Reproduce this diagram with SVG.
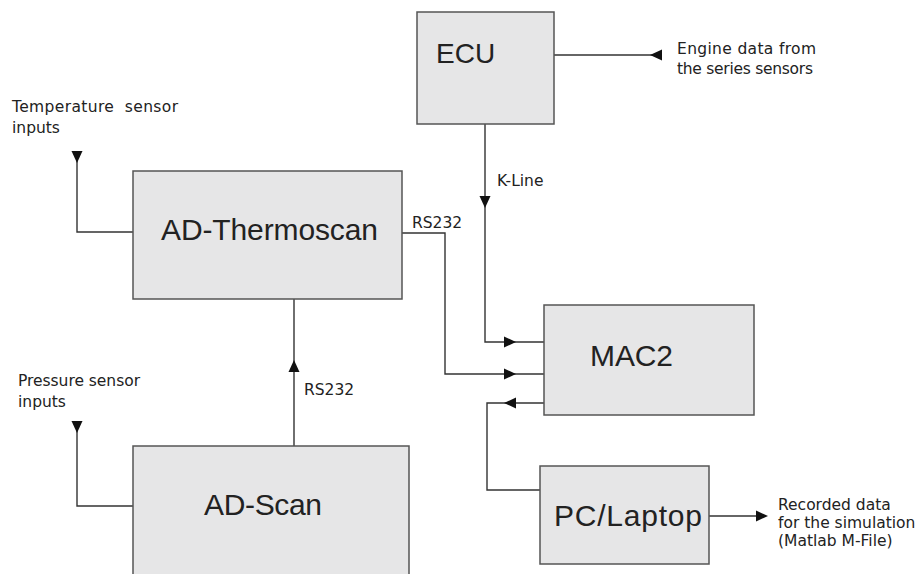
<svg xmlns="http://www.w3.org/2000/svg" width="919" height="574" viewBox="0 0 919 574">
  <style>
    .box { fill: #e6e6e7; stroke: #555; stroke-width: 1.5; }
    .big { font-family: "Liberation Sans", Arial, sans-serif; font-size: 30px; fill: #222; }
    .lbl { font-family: "DejaVu Sans", "Liberation Sans", sans-serif; font-size: 15.5px; fill: #222; }
    .wire { fill: none; stroke: #333; stroke-width: 1.4; }
    .head { fill: #111; }
  </style>
  <defs>
    <path id="ah" d="M0,0 L-12,-5.5 L-12,5.5 Z"/>
  </defs>
  <rect width="919" height="574" fill="#ffffff"/>

  <g id="connectors">
    <polyline class="wire" points="554,55 662,55"/>
    <polyline class="wire" points="485,124 485,342 544,342"/>
    <polyline class="wire" points="77,151 77,232 133,232"/>
    <polyline class="wire" points="77,421 77,506 133,506"/>
    <polyline class="wire" points="294,446 294,299"/>
    <polyline class="wire" points="402,233 445,233 445,374 544,374"/>
    <polyline class="wire" points="544,403 487,403 487,490 540,490"/>
    <polyline class="wire" points="709,516 760,516"/>
    <use href="#ah" class="head" transform="translate(650,55) rotate(180)"/>
    <use href="#ah" class="head" transform="translate(485,208) rotate(90)"/>
    <use href="#ah" class="head" transform="translate(77,163) rotate(90)"/>
    <use href="#ah" class="head" transform="translate(77,433) rotate(90)"/>
    <use href="#ah" class="head" transform="translate(294,360) rotate(-90)"/>
    <use href="#ah" class="head" transform="translate(516,342)"/>
    <use href="#ah" class="head" transform="translate(516,374)"/>
    <use href="#ah" class="head" transform="translate(504,403) rotate(180)"/>
    <use href="#ah" class="head" transform="translate(768,516)"/>
    <text class="lbl" x="497" y="186">K-Line</text>
    <text class="lbl" x="412" y="228">RS232</text>
    <text class="lbl" x="304" y="395">RS232</text>
  </g>

  <g id="ecu">
    <rect class="box" x="417" y="12" width="137" height="112"/>
    <text class="big" x="436" y="63" style="font-size:28px">ECU</text>
  </g>
  <g id="engine-data">
    <text class="lbl" x="677" y="54" textLength="139">Engine data from</text>
    <text class="lbl" x="677" y="74" textLength="136">the series sensors</text>
  </g>
  <g id="temperature-inputs">
    <text class="lbl" x="12" y="112" textLength="166" xml:space="preserve">Temperature  sensor</text>
    <text class="lbl" x="12" y="133">inputs</text>
  </g>
  <g id="ad-thermoscan">
    <rect class="box" x="133" y="171" width="269" height="128"/>
    <text class="big" x="161" y="240" textLength="217">AD-Thermoscan</text>
  </g>
  <g id="pressure-inputs">
    <text class="lbl" x="18" y="386" textLength="122">Pressure sensor</text>
    <text class="lbl" x="18" y="407">inputs</text>
  </g>
  <g id="ad-scan">
    <rect class="box" x="133" y="446" width="276" height="132"/>
    <text class="big" x="204" y="515" textLength="118">AD-Scan</text>
  </g>
  <g id="mac2">
    <rect class="box" x="544" y="305" width="210" height="110"/>
    <text class="big" x="590" y="366" textLength="83">MAC2</text>
  </g>
  <g id="pc-laptop">
    <rect class="box" x="540" y="466" width="169" height="98"/>
    <text class="big" x="554" y="526" textLength="148">PC/Laptop</text>
  </g>
  <g id="recorded-data">
    <text class="lbl" x="778" y="510">Recorded data</text>
    <text class="lbl" x="778" y="528">for the simulation</text>
    <text class="lbl" x="778" y="546">(Matlab M-File)</text>
  </g>
</svg>
